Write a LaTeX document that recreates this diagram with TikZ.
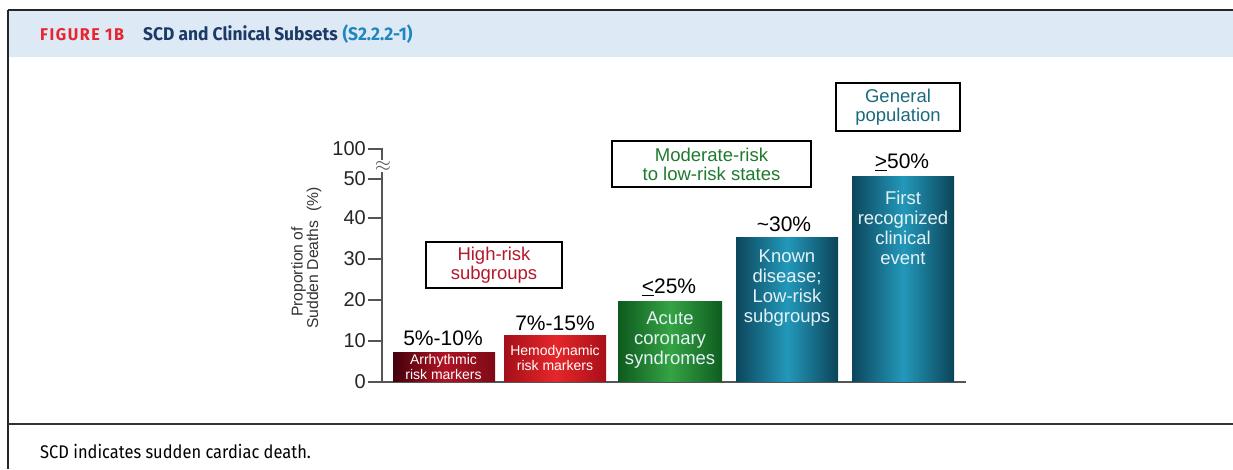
\documentclass[tikz,border=0pt]{standalone}
\usepackage{fontspec}
\setmainfont{Liberation Sans}
\newfontfamily\hdrfont[FakeStretch=0.95]{Fira Sans}
\newfontfamily\capfont[FakeStretch=0.9]{Fira Sans}
\definecolor{hdrbg}{HTML}{DDE9F5}
\definecolor{figred}{HTML}{E8242F}
\definecolor{navy}{HTML}{1B3A66}
\definecolor{refblue}{HTML}{1F86BE}
\definecolor{hired}{HTML}{B5182B}
\definecolor{modgreen}{HTML}{1E7A2E}
\definecolor{genteal}{HTML}{1A6A80}
\definecolor{axisgray}{HTML}{555555}
\definecolor{rAl}{HTML}{45000C}
\definecolor{rAm}{HTML}{B01424}
\definecolor{rAr}{HTML}{7E0A16}
\definecolor{rBl}{HTML}{A50F19}
\definecolor{rBm}{HTML}{E5272B}
\definecolor{rBr}{HTML}{A80F19}
\definecolor{gl}{HTML}{0E5A1E}
\definecolor{gm}{HTML}{34A444}
\definecolor{gr}{HTML}{0F5C1F}
\definecolor{tl}{HTML}{0C475C}
\definecolor{tm}{HTML}{2398BA}
\definecolor{tr}{HTML}{0B4458}
\definecolor{bartxt}{HTML}{E4F2F6}
\begin{document}
\begin{tikzpicture}[x=1pt,y=-1pt,
  bar/.style={draw=none, inner sep=0pt, anchor=south west, minimum width=102pt},
  redA/.style={left color=rAl, right color=rAr, middle color=rAm},
  redB/.style={left color=rBl, right color=rBr, middle color=rBm},
  greenbar/.style={left color=gl, right color=gr, middle color=gm},
  tealbar/.style={left color=tl, right color=tr, middle color=tm},
  bartext/.style={text=bartxt, align=center, font=\fontsize{18.5}{20}\selectfont},
  smallbartext/.style={text=white, align=center, font=\fontsize{14}{14.5}\selectfont},
  valtext/.style={font=\fontsize{21}{24}\selectfont, text=black},
  ticklab/.style={anchor=east, font=\fontsize{20}{20}\selectfont, text=black!85, inner sep=0pt},
  grpbox/.style={draw=black, line width=2pt, align=center, inner sep=0pt, font=\fontsize{18.5}{19}\selectfont},
  axisline/.style={draw=axisgray, line width=1.4pt},
  ylab/.style={rotate=90, text=black!80, inner sep=0pt, font=\fontsize{15.7}{16}\selectfont}
]
\useasboundingbox (0,0) rectangle (1233,469);
% frame and header
\fill[hdrbg] (8,10) rectangle (1233,57);
\draw[black!85, line width=2pt] (8,10) -- (1233,10);
\draw[black!85, line width=1.5pt] (8,10) -- (8,469);
\draw[black!80, line width=1.5pt] (8,424) -- (1233,424);
\node[anchor=base west, inner sep=0pt, text=figred, font=\hdrfont\bfseries\fontsize{17}{18}\selectfont\addfontfeature{LetterSpace=9}] (fig) at (40,40) {FIGURE 1B};
\node[anchor=base west, inner sep=0pt, text=navy, font=\hdrfont\bfseries\fontsize{18.3}{19}\selectfont] (title) at (143,40) {SCD and Clinical Subsets};
\node[anchor=base west, inner sep=0pt, text=refblue, font=\hdrfont\bfseries\fontsize{18.3}{19}\selectfont] (ref) at ([xshift=4.5pt]title.base east) {(S2.2.2-1)};
\node[anchor=base west, inner sep=0pt, text=black, font=\capfont\fontsize{18.3}{19}\selectfont] (cap) at (40,458) {SCD indicates sudden cardiac death.};
% axis
\coordinate (a0) at (382,382);
\coordinate (a50) at (382,172);
\coordinate (abrk) at (382,160);
\coordinate (a100) at (382,149);
\coordinate (bend) at (966,382);
\draw[axisline] (a0) -- (a50);
\draw[axisline] (abrk) -- (a100) -- ++(-14,0);
\node[inner sep=0pt, text=axisgray, font=\fontsize{20}{20}\selectfont] (brk) at (383,166) {$\approx$};
\draw[axisline] (a0) -- (bend);
\foreach \v/\y in {0/382,10/341,20/300,30/259,40/218,50/179}{
  \draw[axisline] (382,\y) -- (368,\y);
  \node[ticklab] (t\v) at (366,\y) {\v};
}
\node[ticklab] (t100) at (366,149) {100};
\node[ylab] (ytitleA) at (298.5,272) {Proportion of};
\node[ylab] (ytitleB) at (314,258) {Sudden Deaths\ \ (\%)};
% bars
\node[bar, redA, minimum height=29pt] (b1) at (393,382) {};
\node[bar, redB, minimum height=46pt] (b2) at (504,382) {};
\node[bar, greenbar, minimum height=80pt, minimum width=104pt] (b3) at (618,382) {};
\node[bar, tealbar, minimum height=144pt] (b4) at (736,382) {};
\node[bar, tealbar, minimum height=205pt] (b5) at (852,382) {};
% bar texts
\node[smallbartext] (l1) at (443.5,367) {Arrhythmic\\risk markers};
\node[smallbartext] (l2) at (555,358) {Hemodynamic\\risk markers};
\node[bartext] (l3) at (670,340) {Acute\\coronary\\syndromes};
\node[bartext] (l4) at (787,288) {Known\\disease;\\Low-risk\\subgroups};
\node[bartext] (l5) at (903,228) {First\\recognized\\clinical\\event};
% value labels
\node[valtext] (v1) at (443,338) {5\%-10\%};
\node[valtext] (v2) at (555,323) {7\%-15\%};
\node[valtext] (v3) at (669,287) {\underline{<}25\%};
\node[valtext] (v4) at (784,224) {\textasciitilde30\%};
\node[valtext] (v5) at (902,162) {\underline{>}50\%};
% group boxes
\node[grpbox, text=hired, minimum width=136pt, minimum height=46pt] (g1) at (494,265) {High-risk\\subgroups};
\node[grpbox, text=modgreen, minimum width=199pt, minimum height=46pt] (g2) at (711.5,164) {Moderate-risk\\to low-risk states};
\node[grpbox, text=genteal, minimum width=124pt, minimum height=48pt] (g3) at (898,107) {General\\population};
\end{tikzpicture}
\end{document}
